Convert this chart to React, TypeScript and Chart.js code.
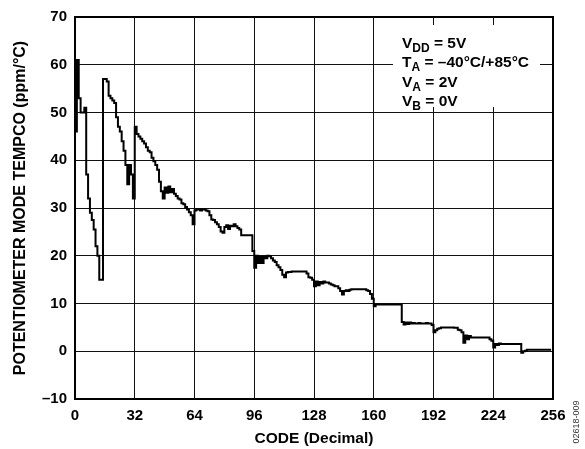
import React, { useEffect, useRef } from "react";
import { Chart, registerables } from "chart.js";

Chart.register(...registerables);

// ---- data ----
const xTickValues = [0, 32, 64, 96, 128, 160, 192, 224, 256];
const yTickValues = [-10, 0, 10, 20, 30, 40, 50, 60, 70];

// Potentiometer-mode tempco (ppm/°C) for each code 0..255
const tempco = [
  // 0-15
  46, 61, 53, 50, 50, 51, 37, 32, 29, 27.5, 25.5, 22, 20, 15, 15, 57,
  // 16-31
  57, 56.5, 53.5, 53, 52.5, 52, 49, 47, 46, 44, 42, 39, 35, 39, 37, 32,
  // 32-47
  47, 45.5, 45, 44.5, 44, 43.5, 42.7, 42, 41.7, 40.5, 39.8, 39, 38, 35.5, 33.5, 32,
  // 48-63
  34.3, 33.2, 34.5, 33.3, 34, 33, 32.5, 32, 31.8, 31, 30.8, 30.2, 29.7, 29.1, 28.5, 26.6,
  // 64-79
  29.5, 29.7, 29.7, 29.5, 29.7, 29.7, 29.5, 29.3, 28.5, 27.6, 27.5, 27, 26.6, 26, 25.1, 24.8,
  // 80-95
  26, 26.4, 25.6, 26.3, 26.2, 26.6, 26.2, 25.8, 25.5, 24.3, 24.3, 24.3, 24.3, 24.3, 24.3, 21,
  // 96-111
  17.5, 20, 18.5, 19.8, 18.5, 19.8, 19.5, 20, 19.9, 19.5, 19, 18.7, 18, 17.6, 17, 16,
  // 112-127
  15.5, 16.5, 16.6, 16.6, 16.7, 16.7, 16.7, 16.7, 16.7, 16.7, 16.7, 16.7, 16.3, 15.5, 15.4, 15,
  // 128-143
  13.6, 14.6, 13.8, 14.5, 14.2, 14.6, 14.4, 14.4, 14.2, 14, 13.8, 13.6, 13.6, 13.2, 12.6, 11.9,
  // 144-159
  12.6, 12.8, 12.6, 12.9, 13, 13, 13, 13, 13, 13, 13, 13, 12.8, 12.6, 12, 11,
  // 160-175
  9.4, 9.8, 9.8, 9.8, 9.8, 9.8, 9.8, 9.8, 9.8, 9.8, 9.8, 9.8, 9.8, 9.8, 9.8, 6.1,
  // 176-191
  5.6, 6, 5.7, 6, 5.8, 5.9, 5.8, 5.8, 5.9, 5.8, 5.8, 5.8, 5.9, 5.8, 5.8, 5.5,
  // 192-207
  4, 4.4, 4.7, 4.8, 5, 5, 5, 5, 5, 5, 5, 4.9, 4.9, 4.5, 4.4, 4,
  // 208-223
  1.8, 3.3, 2.5, 3.2, 2.9, 2.9, 2.9, 2.9, 2.9, 2.9, 2.9, 2.9, 2.9, 2.9, 2.5, 2.2,
  // 224-239
  0.8, 1.5, 1.3, 1.6, 1.5, 1.5, 1.5, 1.5, 1.5, 1.5, 1.5, 1.5, 1.5, 1.5, 1.5, -0.3,
  // 240-255
  0, 0.1, 0.3, 0.3, 0.3, 0.3, 0.3, 0.3, 0.3, 0.3, 0.3, 0.3, 0.3, 0.3, 0.3, 0.3,
];
const codes = tempco.map((_, i) => i);

const legendLines = [
  { main: "V", sub: "DD", rest: " = 5V" },
  { main: "T", sub: "A", rest: " = \u201340\u00B0C/+85\u00B0C" },
  { main: "V", sub: "A", rest: " = 2V" },
  { main: "V", sub: "B", rest: " = 0V" },
];
const xTitle = "CODE (Decimal)";
const yTitle = "POTENTIOMETER MODE TEMPCO (ppm/\u00B0C)";
const figureId = "02618-009";

const FONT = '"Liberation Sans", Arial, sans-serif';

const decorPlugin = {
  id: "decor",
  beforeDatasetsDraw(chart: any) {
    const { ctx, chartArea: a } = chart;
    ctx.save();
    // white legend box (covers grid lines)
    ctx.fillStyle = "#fff";
    ctx.fillRect(a.left + 318, a.top + 8, 147, 82);
    // plot frame
    ctx.strokeStyle = "#000";
    ctx.lineWidth = 2;
    ctx.strokeRect(a.left, a.top, a.right - a.left, a.bottom - a.top);
    ctx.restore();
  },
  afterDraw(chart: any) {
    const { ctx, chartArea: a } = chart;
    ctx.save();
    ctx.fillStyle = "#000";
    ctx.textBaseline = "alphabetic";
    ctx.textAlign = "left";
    const x0 = a.left + 327;
    legendLines.forEach((ln, i) => {
      const base = a.top + 31 + i * 19.3;
      let x = x0;
      ctx.font = `bold 15.5px ${FONT}`;
      ctx.fillText(ln.main, x, base);
      x += ctx.measureText(ln.main).width;
      ctx.font = `bold 12px ${FONT}`;
      ctx.fillText(ln.sub, x, base + 4);
      x += ctx.measureText(ln.sub).width;
      ctx.font = `bold 15.5px ${FONT}`;
      ctx.fillText(ln.rest, x, base);
    });
    // figure id, rotated
    ctx.font = `9px ${FONT}`;
    ctx.fillStyle = "#333";
    ctx.translate(chart.width - 8, a.bottom + 23);
    ctx.rotate(-Math.PI / 2);
    ctx.textAlign = "center";
    ctx.textBaseline = "middle";
    ctx.fillText(figureId, 0, 0);
    ctx.restore();
  },
};

export default function App() {
  const ref = useRef<HTMLCanvasElement | null>(null);

  useEffect(() => {
    if (!ref.current) return;
    const chart = new Chart(ref.current, {
      type: "line",
      data: {
        datasets: [
          {
            data: codes.map((c, i) => ({ x: c, y: tempco[i] })),
            borderColor: "#000",
            borderWidth: 2,
            pointRadius: 0,
            stepped: "before",
            fill: false,
          },
        ],
      },
      options: {
        responsive: false,
        animation: false,
        layout: { padding: { top: 17, right: 32, bottom: 0, left: 0 } },
        plugins: {
          legend: { display: false },
          tooltip: { enabled: false },
        },
        scales: {
          x: {
            type: "linear",
            min: 0,
            max: 256,
            afterFit: (s: any) => {
              s.height = 50;
            },
            afterBuildTicks: (s: any) => {
              s.ticks = xTickValues.map((v) => ({ value: v }));
            },
            ticks: {
              color: "#000",
              padding: 8,
              maxRotation: 0,
              font: { family: FONT, size: 15, weight: "bold" },
            },
            grid: { color: "#111", lineWidth: 1, drawTicks: false },
            border: { display: false },
            title: {
              display: true,
              text: xTitle,
              color: "#000",
              padding: { top: 0, bottom: 1 },
              font: { family: FONT, size: 15.5, weight: "bold" },
            },
          },
          y: {
            type: "linear",
            min: -10,
            max: 70,
            afterFit: (s: any) => {
              s.width = 75;
            },
            afterBuildTicks: (s: any) => {
              s.ticks = yTickValues.map((v) => ({ value: v }));
            },
            ticks: {
              color: "#000",
              padding: 8,
              font: { family: FONT, size: 15, weight: "bold" },
              callback: (v: any) => (Number(v) < 0 ? "\u2013" + Math.abs(Number(v)) : String(v)),
            },
            grid: { color: "#111", lineWidth: 1, drawTicks: false },
            border: { display: false },
            title: {
              display: true,
              text: yTitle,
              color: "#000",
              padding: { top: 11, bottom: 0 },
              font: { family: FONT, size: 16, weight: "bold" },
            },
          },
        },
      },
      plugins: [decorPlugin],
    });
    return () => chart.destroy();
  }, []);

  return (
    <div style={{ position: "absolute", left: 0, top: 0, width: 585, height: 449, background: "#fff" }}>
      <canvas ref={ref} width={585} height={449} style={{ width: 585, height: 449 }} />
    </div>
  );
}
